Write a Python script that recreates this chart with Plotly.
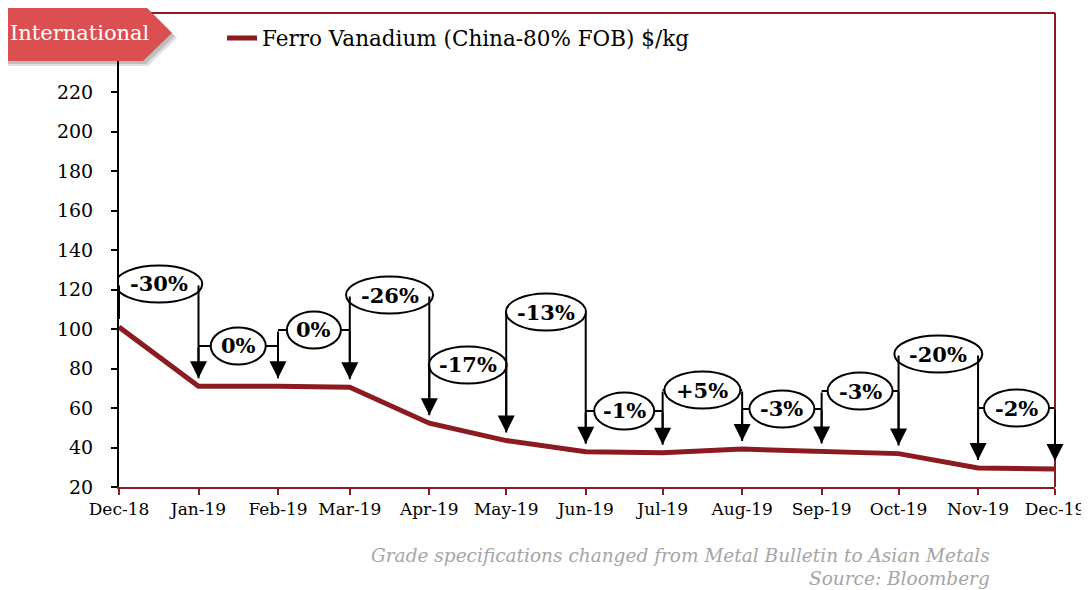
import pandas as pd
import plotly.graph_objects as go

# monthly ferro vanadium price, $/kg
months = pd.date_range("2018-12-01", "2019-12-01", freq="MS")
price = [101.0, 71.0, 71.0, 70.5, 52.3, 43.5, 37.8, 37.3, 39.2, 38.0, 36.9, 29.6, 29.1]
changes = ["-30%", "0%", "0%", "-26%", "-17%", "-13%", "-1%", "+5%", "-3%", "-3%", "-20%", "-2%"]

# bracket heights (y units) and ellipse widths (px) for the change labels
bracket_y = [122.8, 91.4, 99.5, 117.2, 81.8, 108.6, 58.5, 69.1, 59.5, 68.6, 87.3, 60.0]
oval_w = [87, 55, 54, 87, 78, 80, 60, 76, 65, 65, 88, 65]

RED = "#8B1A21"
SERIF = "DejaVu Serif"
# page has an 8px body margin, so the figure is shifted by OFF
OFF = 8
W, H = 1081, 582
L, R, T, B = 111, 34, 5, 103


def px(x, y):
    # page pixel -> paper coords
    return (x - OFF - L) / (W - L - R), (H - B - (y - OFF)) / (H - T - B)


fig = go.Figure()
fig.add_trace(go.Scatter(x=months, y=price, mode="lines",
                         name="Ferro Vanadium (China-80% FOB) $/kg",
                         line=dict(color=RED, width=5)))

shapes = []
annotations = []

for i, lab in enumerate(changes):
    x0, x1 = months[i], months[i + 1]
    lvl = bracket_y[i]
    shapes.append(dict(type="line", xref="x", yref="y", x0=x0, x1=x1, y0=lvl, y1=lvl,
                       line=dict(color="black", width=2)))
    # left leg (plain) and right leg (arrow)
    annotations.append(dict(x=x0, y=price[i], ax=x0, ay=lvl, axref="x", ayref="y",
                            text="", showarrow=True, arrowhead=0, arrowwidth=2,
                            arrowcolor="black", standoff=8))
    annotations.append(dict(x=x1, y=price[i + 1], ax=x1, ay=lvl, axref="x", ayref="y",
                            text="", showarrow=True, arrowhead=2, arrowsize=1.7,
                            arrowwidth=2, arrowcolor="black", standoff=8))

for i, lab in enumerate(changes):
    x0, x1 = months[i], months[i + 1]
    mid = x0 + (x1 - x0) / 2
    lvl = bracket_y[i]
    shapes.append(dict(type="circle", xref="x", yref="y", xsizemode="pixel", ysizemode="pixel",
                       xanchor=mid, yanchor=lvl, x0=-oval_w[i] / 2, x1=oval_w[i] / 2,
                       y0=-18.5, y1=18.5, fillcolor="white",
                       line=dict(color="black", width=2)))
    annotations.append(dict(x=mid, y=lvl, xref="x", yref="y", text="<b>%s</b>" % lab,
                            showarrow=False, font=dict(family=SERIF, size=21, color="black")))

# frame: top and right dark red, left axis black
shapes.append(dict(type="line", xref="paper", yref="paper", x0=0, x1=1, y0=1, y1=1,
                   line=dict(color=RED, width=2)))
shapes.append(dict(type="line", xref="paper", yref="paper", x0=1, x1=1, y0=0, y1=1,
                   line=dict(color=RED, width=2)))

# "International" tag with soft shadow
def tag_path(dx, dy):
    pts = [(0 + dx, 4 + dy), (143 + dx, 4 + dy), (172 + dx, 33 + dy), (143 + dx, 61 + dy), (0 + dx, 61 + dy)]
    s = ""
    for k, (a, b) in enumerate(pts):
        u, v = px(a, b)
        s += ("M" if k == 0 else "L") + "%.5f,%.5f" % (u, v)
    return s + "Z"

shapes.append(dict(type="path", xref="paper", yref="paper", path=tag_path(5, 5),
                   fillcolor="rgba(0,0,0,0.12)", line=dict(width=0)))
shapes.append(dict(type="path", xref="paper", yref="paper", path=tag_path(3, 3),
                   fillcolor="rgba(0,0,0,0.15)", line=dict(width=0)))
shapes.append(dict(type="path", xref="paper", yref="paper", path=tag_path(0, 0),
                   fillcolor="#DC4F50", line=dict(width=0)))
tx, ty = px(80, 33)
annotations.append(dict(x=tx, y=ty, xref="paper", yref="paper", text="International",
                        xanchor="center", yanchor="middle",
                        showarrow=False, font=dict(family=SERIF, size=21, color="white")))

fx, fy1 = px(992, 555)
_, fy2 = px(992, 578)
annotations.append(dict(x=fx, y=fy1, xref="paper", yref="paper", xanchor="right", yanchor="middle",
                        text="Grade specifications changed from Metal Bulletin to Asian Metals",
                        showarrow=False,
                        font=dict(family=SERIF, size=18.5, color="#A5A5A5", style="italic")))
annotations.append(dict(x=fx, y=fy2, xref="paper", yref="paper", xanchor="right", yanchor="middle",
                        text="Source: Bloomberg", showarrow=False,
                        font=dict(family=SERIF, size=18.5, color="#A5A5A5", style="italic")))

lx, ly = px(222, 38)
fig.update_layout(
    width=W, height=H,
    margin=dict(l=L, r=R, t=T, b=B, autoexpand=False),
    plot_bgcolor="white", paper_bgcolor="white",
    font=dict(family=SERIF, size=17, color="black"),
    showlegend=True,
    legend=dict(x=lx, y=ly, xanchor="left", yanchor="middle", orientation="h",
                bgcolor="rgba(0,0,0,0)", font=dict(family=SERIF, size=21.5)),
    shapes=shapes,
    annotations=annotations,
    xaxis=dict(type="date", range=[months[0], months[-1]], tickvals=months,
               tickformat="%b-%y", showgrid=False, zeroline=False, automargin=False,
               showline=True, linecolor=RED, linewidth=2,
               ticks="outside", ticklen=6, tickcolor=RED, tickwidth=2,
               tickfont=dict(family=SERIF, size=17)),
    yaxis=dict(range=[20, 260], tickvals=list(range(20, 250, 20)), showgrid=False,
               zeroline=False, automargin=False,
               showline=True, linecolor="black", linewidth=2,
               ticks="outside", ticklen=6, tickcolor="black", tickwidth=2,
               ticklabelstandoff=14,
               tickfont=dict(family=SERIF, size=19)),
)

fig.write_html("out.html")
